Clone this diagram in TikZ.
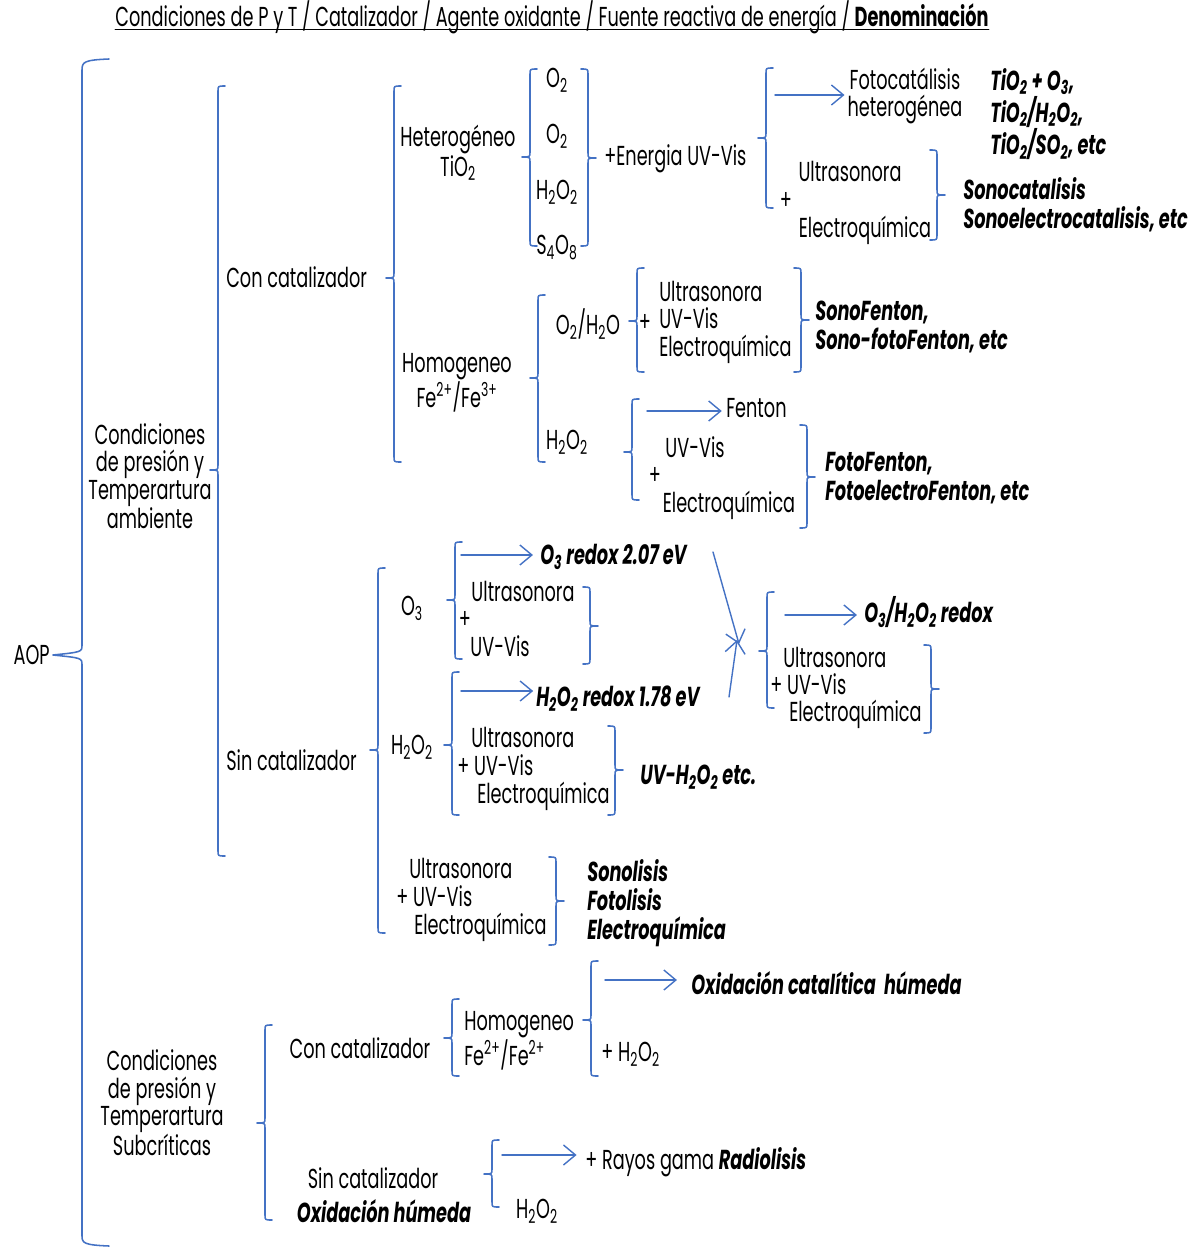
\documentclass[tikz,border=0pt]{standalone}
\usepackage{fontspec}
\setmainfont{Poppins}[FakeStretch=0.645]
\usetikzlibrary{arrows.meta}
\definecolor{brkblue}{RGB}{68,114,196}
\newcommand\sz{\fontsize{19.5}{19.5}\selectfont}
\begin{document}
\begin{tikzpicture}[x=0.025cm,y=-0.025cm,line join=round,line cap=round,
  >={Straight Barb[length=0.3cm,width=0.5cm]},
  brk/.style={brkblue,line width=1.1pt},
  arr/.style={brkblue,line width=1pt,->},
  lbl/.style={inner sep=0pt,text height=14pt,text depth=0pt,font=\sz},
  blk/.style={inner sep=0pt,align=center,font=\sz},
  den/.style={lbl,font=\sz\bfseries\itshape},
  denblk/.style={blk,align=left,font=\fontsize{19.5}{20.5}\selectfont\bfseries\itshape}]
\useasboundingbox (0,0) rectangle (1200,1247);
% left and right brackets: (x,top,bottom,middle)
\def\lb(#1,#2,#3,#4){\draw[brk] (#1+7,#2) .. controls (#1,#2) .. (#1,#2+5) -- (#1,#4-5) .. controls (#1,#4) .. (#1-8,#4) .. controls (#1,#4) .. (#1,#4+5) -- (#1,#3-5) .. controls (#1,#3) .. (#1+7,#3);}
\def\rb(#1,#2,#3,#4){\draw[brk] (#1-7,#2) .. controls (#1,#2) .. (#1,#2+5) -- (#1,#4-5) .. controls (#1,#4) .. (#1+8,#4) .. controls (#1,#4) .. (#1,#4+5) -- (#1,#3-5) .. controls (#1,#3) .. (#1-7,#3);}
\node[lbl] (title) at (552,17) {Condiciones de P y T / Catalizador / Agente oxidante / Fuente reactiva de energía / \textbf{Denominación}};
\draw[line width=0.8pt] ([yshift=-2pt]title.south west) -- ([yshift=-2pt]title.south east);
% AOP
\node[lbl,anchor=east] (aop) at (50,655) {AOP};
\draw[brk] (109,59) .. controls (84,60) and (82,62) .. (82,70) -- (82,645) .. controls (82,652) .. (53,655) .. controls (82,658) .. (82,665) -- (82,1236) .. controls (82,1243) and (84,1245) .. (109,1246);
\node[blk] (cpt) at (150,476) {Condiciones\\de presión y\\Temperartura\\ambiente};
\lb(218,86,856,470)
\node[lbl,anchor=west] (concat) at (226,278) {Con catalizador};
\lb(394,86,462,278)
% heterogeneo
\node[blk] (het) at (458,153) {Heterogéneo\\TiO\textsubscript{2}};
\lb(530,69,246,157)
\node[lbl] (ox1) at (557,78) {O\textsubscript{2}};
\node[lbl] (ox2) at (557,134) {O\textsubscript{2}};
\node[lbl] (ox3) at (557,190) {H\textsubscript{2}O\textsubscript{2}};
\node[lbl] (ox4) at (557,245) {S\textsubscript{4}O\textsubscript{8}};
\rb(588,69,246,158)
\node[lbl,anchor=west] (ener) at (604,156) {+Energia UV-Vis};
\lb(766,68,208,138)
\node[blk] (foto) at (905,96) {Fotocatálisis\\heterogénea};
\coordinate (fa) at (775,95);
\draw[arr,shorten >=2pt] (fa) -- (fa -| foto.west);
\node[denblk,anchor=west] (tio) at (990,114) {TiO\textsubscript{2} + O\textsubscript{3},\\TiO\textsubscript{2}/H\textsubscript{2}O\textsubscript{2},\\TiO\textsubscript{2}/SO\textsubscript{2}, etc};
\node[lbl] (us1) at (850,172) {Ultrasonora};
\node[lbl] (pl1) at (786,200) {+};
\node[lbl] (el1) at (865,228) {Electroquímica};
\rb(937,150,240,195)
\node[denblk,anchor=west] (sonocat) at (963,205) {Sonocatalisis\\Sonoelectrocatalisis, etc};
% homogeneo
\node[blk] (hom) at (457,383) {Homogeneo\\Fe\textsuperscript{2+}/Fe\textsuperscript{3+}};
\lb(538,295,462,378)
\node[lbl] (o2h2o) at (588,325) {O\textsubscript{2}/H\textsubscript{2}O};
\lb(637,268,372,321)
\node[lbl] (pl2) at (645,322) {+};
\node[blk,align=left,anchor=west] (us2) at (659,322) {Ultrasonora\\UV-Vis\\Electroquímica};
\rb(801,268,372,320)
\node[denblk,anchor=west] (sonof) at (815,327) {SonoFenton,\\Sono-fotoFenton, etc};
\node[lbl] (h2o2a) at (567,440) {H\textsubscript{2}O\textsubscript{2}};
\lb(632,399,500,452)
\node[lbl,anchor=west] (fenton) at (726,408) {Fenton};
\coordinate (fe) at (647,411);
\draw[arr,shorten >=3pt] (fe) -- (fe -| fenton.west);
\node[lbl] (uv3) at (695,448) {UV-Vis};
\node[lbl] (pl3) at (655,475) {+};
\node[lbl] (el3) at (729,503) {Electroquímica};
\rb(807,425,528,477)
\node[denblk,anchor=west] (fotof) at (825,478) {FotoFenton,\\FotoelectroFenton, etc};
% sin catalizador
\node[lbl,anchor=west] (sincat) at (226,761) {Sin catalizador};
\lb(378,568,933,750)
\node[lbl] (o3) at (412,606) {O\textsubscript{3}};
\lb(455,542,659,600)
\node[den,anchor=west] (o3r) at (540,555) {O\textsubscript{3} redox 2.07 eV};
\coordinate (oa) at (461,555);
\draw[arr,shorten >=5pt] (oa) -- (oa -| o3r.west);
\node[lbl] (us4) at (523,592) {Ultrasonora};
\node[lbl] (pl4) at (465,619) {+};
\node[lbl] (uv4) at (500,647) {UV-Vis};
\rb(590,587,664,626)
\coordinate (d1) at (713,552);
\coordinate (m1) at (739,644);
\coordinate (d2) at (729,697);
\coordinate (m2) at (737,640);
\draw[arr] (d1) -- (m1);
\draw[arr] (d2) -- (m2);
\lb(767,592,708,651)
\node[den,anchor=west] (o3h) at (864,613) {O\textsubscript{3}/H\textsubscript{2}O\textsubscript{2} redox};
\coordinate (pa) at (785,615);
\draw[arr,shorten >=5pt] (pa) -- (pa -| o3h.west);
\node[lbl,anchor=west] (us5) at (783,658) {Ultrasonora};
\node[lbl,anchor=west] (uv5) at (770,685) {+ UV-Vis};
\node[lbl,anchor=west] (el5) at (789,712) {Electroquímica};
\rb(931,645,733,689)
\node[lbl] (h2o2b) at (412,745) {H\textsubscript{2}O\textsubscript{2}};
\lb(452,672,815,745)
\node[den,anchor=west] (h2r) at (536,697) {H\textsubscript{2}O\textsubscript{2} redox 1.78 eV};
\coordinate (ha) at (461,691);
\draw[arr,shorten >=2pt] (ha) -- (ha -| h2r.west);
\node[lbl,anchor=west] (us6) at (471,738) {Ultrasonora};
\node[lbl,anchor=west] (uv6) at (457,766) {+ UV-Vis};
\node[lbl,anchor=west] (el6) at (477,794) {Electroquímica};
\rb(615,726,815,770)
\node[den,anchor=west] (uvh) at (640,775) {UV-H\textsubscript{2}O\textsubscript{2} etc.};
\node[lbl,anchor=west] (us7) at (409,869) {Ultrasonora};
\node[lbl,anchor=west] (uv7) at (396,897) {+ UV-Vis};
\node[lbl,anchor=west] (el7) at (414,925) {Electroquímica};
\rb(556,857,945,901)
\node[denblk,anchor=west] (sonol) at (587,903) {Sonolisis\\Fotolisis\\Electroquímica};
% subcriticas
\node[blk] (cpt2) at (162,1103) {Condiciones\\de presión y\\Temperartura\\Subcríticas};
\lb(265,1025,1220,1123)
\node[lbl] (concat2) at (360,1049) {Con catalizador};
\lb(452,999,1076,1038)
\node[blk,align=left,anchor=west] (hom2) at (464,1041) {Homogeneo\\Fe\textsuperscript{2+}/Fe\textsuperscript{2+}};
\lb(591,961,1076,1020)
\node[den,anchor=west] (ocat) at (691,985) {Oxidación catalítica\ \ húmeda};
\coordinate (wa) at (605,980);
\draw[arr,shorten >=10pt] (wa) -- (wa -| ocat.west);
\node[lbl,anchor=west] (h2o2c) at (601,1052) {+ H\textsubscript{2}O\textsubscript{2}};
\node[lbl] (sincat2) at (373,1179) {Sin catalizador};
\node[den] (oxh) at (384,1213) {Oxidación húmeda};
\lb(492,1140,1207,1174)
\node[lbl,anchor=west] (rayos) at (585,1160) {+ Rayos gama \textbf{\textit{Radiolisis}}};
\coordinate (xa) at (502,1155);
\draw[arr,shorten >=6pt] (xa) -- (xa -| rayos.west);
\node[lbl] (h2o2d) at (537,1209) {H\textsubscript{2}O\textsubscript{2}};
\end{tikzpicture}
\end{document}
